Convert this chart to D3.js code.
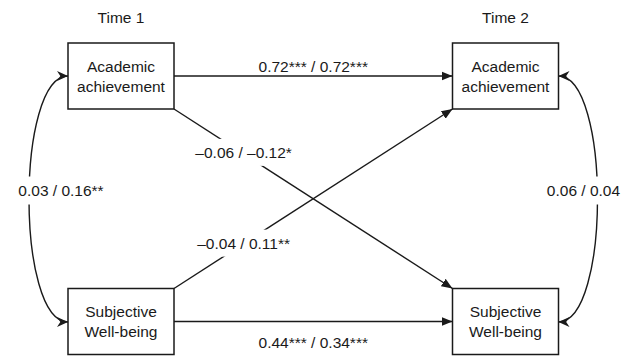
<!DOCTYPE html>
<html>
<head>
<meta charset="utf-8">
<script src="https://cdn.jsdelivr.net/npm/d3@7"></script>
<style>
  html, body { margin: 0; padding: 0; background: #fff; }
  text { font-family: "Liberation Sans", Arial, Helvetica, sans-serif; fill: #1a1a1a; }
</style>
</head>
<body>
<svg id="chart" width="631" height="356"></svg>
<script>
// ---- data ----
const times = ["Time 1", "Time 2"];
const variables = ["Academic achievement", "Subjective Well-being"];
const variableLines = [["Academic", "achievement"], ["Subjective", "Well-being"]];
// paths: [fromVariable, toVariable, label]  (all Time 1 -> Time 2)
const pathFrom = ["Academic achievement", "Subjective Well-being", "Academic achievement", "Subjective Well-being"];
const pathTo   = ["Academic achievement", "Subjective Well-being", "Subjective Well-being", "Academic achievement"];
const pathLabels = ["0.72*** / 0.72***", "0.44*** / 0.34***", "\u20130.06 / \u20130.12*", "\u20130.04 / 0.11**"];
// within-time correlations
const corrTimes = ["Time 1", "Time 2"];
const corrLabels = ["0.03 / 0.16**", "0.06 / 0.04"];

// ---- layout ----
const svg = d3.select("#chart");
const W = 631, H = 356;
const boxW = 106, boxH = 66;
const x = d3.scalePoint().domain(times).range([121, 505.5]);
const y = d3.scalePoint().domain(variables).range([76, 321.5]);
const ink = "#1a1a1a";
const fontSize = 15.5;

const defs = svg.append("defs");
defs.append("marker").attr("id", "tri")
  .attr("viewBox", "0 -5 10 10").attr("refX", 10).attr("refY", 0)
  .attr("markerUnits", "userSpaceOnUse").attr("markerWidth", 11).attr("markerHeight", 11)
  .attr("orient", "auto")
  .append("path").attr("d", "M0,-4L10,0L0,4Z").attr("fill", ink);
defs.append("marker").attr("id", "stealth")
  .attr("viewBox", "0 -5 10 10").attr("refX", 10).attr("refY", 0)
  .attr("markerUnits", "userSpaceOnUse").attr("markerWidth", 11).attr("markerHeight", 11)
  .attr("orient", "auto-start-reverse")
  .append("path").attr("d", "M0,-4.5L10,0L0,4.5L3,0Z").attr("fill", ink);

const lineLayer = svg.append("g");
const labelLayer = svg.append("g");

function addLabel(txt, cx, cy, padX, padY) {
  const g = labelLayer.append("g");
  const t = g.append("text").attr("x", cx).attr("y", cy).attr("dy", "0.35em")
    .attr("text-anchor", "middle").attr("font-size", fontSize).text(txt);
  if (padY !== null) {
    const bb = t.node().getBBox();
    g.insert("rect", "text").attr("x", bb.x - padX).attr("y", cy - padY)
      .attr("width", bb.width + 2 * padX).attr("height", 2 * padY).attr("fill", "#fff");
  }
}

// time headers
times.forEach(t => {
  svg.append("text").attr("x", x(t)).attr("y", 18).attr("dy", "0.35em")
    .attr("text-anchor", "middle").attr("font-size", fontSize).text(t);
});

// structural paths
const x0 = x(times[0]) + boxW / 2, x1 = x(times[1]) - boxW / 2;
pathFrom.forEach((f, i) => {
  const to = pathTo[i];
  const yf = y(f), yt = y(to);
  let sx, sy, ex, ey;
  if (f === to) {
    sx = x0; sy = yf; ex = x1; ey = yt;
  } else {
    const dir = yt > yf ? 1 : -1;
    sx = x0; sy = yf + dir * boxH / 2;
    ex = x1; ey = yt - dir * boxH / 2;
  }
  lineLayer.append("line").attr("x1", sx).attr("y1", sy).attr("x2", ex).attr("y2", ey)
    .attr("stroke", ink).attr("stroke-width", 1.4).attr("marker-end", "url(#tri)");
  if (f === to) {
    const above = variables.indexOf(f) === 0;
    addLabel(pathLabels[i], (sx + ex) / 2, sy + (above ? -9.5 : 21.5), 0, null);
  } else {
    const tt = 0.25;
    addLabel(pathLabels[i], sx + (ex - sx) * tt, sy + (ey - sy) * tt + (ey > sy ? -1.5 : -0.5), 2, 13.5);
  }
});

// correlation curves
corrTimes.forEach((t, i) => {
  const side = i === 0 ? -1 : 1;
  const bx = x(t) + side * boxW / 2;
  const ya = y(variables[0]), yb = y(variables[1]) + 0.5;
  const cx = bx + side * (i === 0 ? 52 : 52);
  const p = d3.path();
  p.moveTo(bx, ya);
  p.bezierCurveTo(cx, ya, cx, yb, bx, yb);
  lineLayer.append("path").attr("d", p.toString()).attr("fill", "none")
    .attr("stroke", ink).attr("stroke-width", 1.4)
    .attr("marker-start", "url(#stealth)").attr("marker-end", "url(#stealth)");
  const midX = (2 * bx + 6 * cx) / 8;
  const lx = i === 0 ? midX + 32 : midX - 14;
  addLabel(corrLabels[i], lx, (ya + yb) / 2 - 8.5, 1, 14);
});

// boxes
times.forEach(t => {
  variables.forEach((v, vi) => {
    const g = svg.append("g");
    g.append("rect").attr("x", x(t) - boxW / 2).attr("y", y(v) - boxH / 2)
      .attr("width", boxW).attr("height", boxH)
      .attr("fill", "#fff").attr("stroke", ink).attr("stroke-width", 1.5);
    variableLines[vi].forEach((ln, li) => {
      g.append("text").attr("x", x(t)).attr("y", y(v) - 9.5 + li * 20).attr("dy", "0.35em")
        .attr("text-anchor", "middle").attr("font-size", fontSize).text(ln);
    });
  });
});
</script>
</body>
</html>
